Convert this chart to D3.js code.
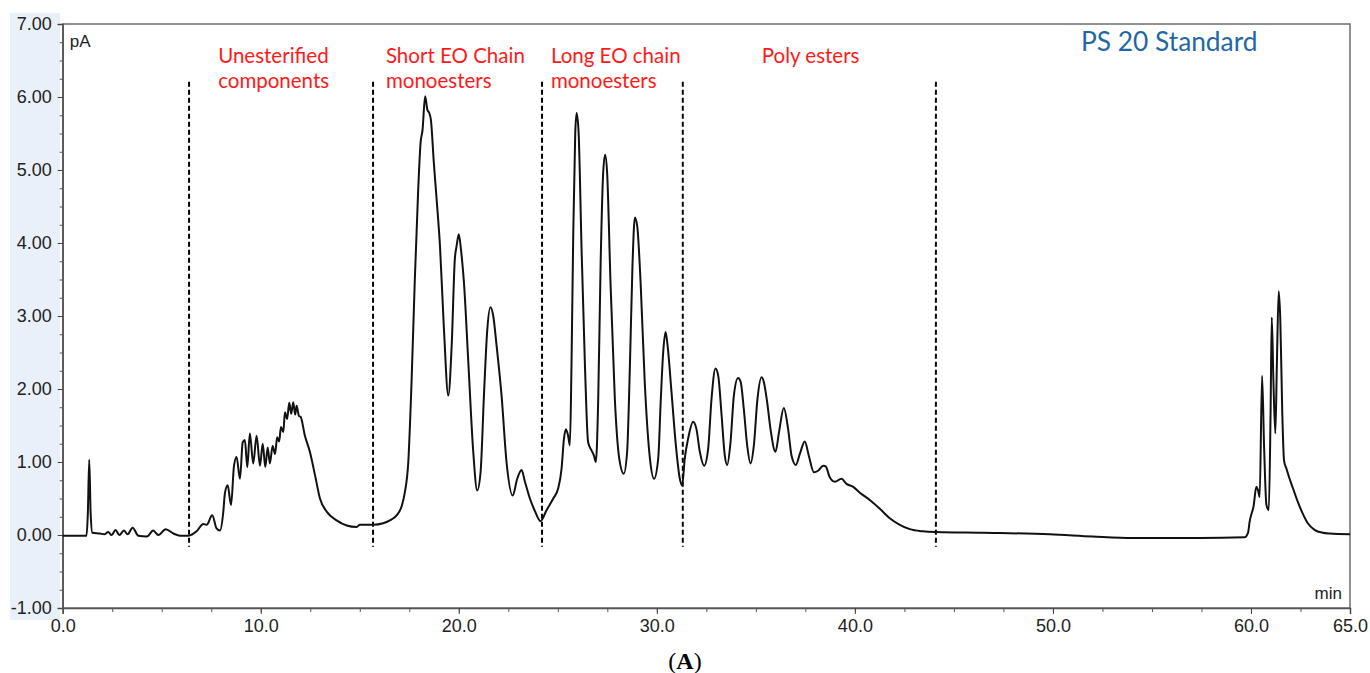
<!DOCTYPE html>
<html lang="en">
  <head>
    <meta charset="UTF-8" />
    <title>PS 20 Standard chromatogram</title>
    <script src="https://d3js.org/d3.v7.min.js"></script>
    <style>
      body {
        margin: 0;
        background: #fff;
      }
      .tick text {
        font: 18px "Liberation Sans", Arial, sans-serif;
        fill: #222;
      }
      .region-label {
        font: 20.5px Lato, sans-serif;
        fill: #ff1a1a;
      }
    </style>
  </head>
  <body>
    <svg id="chart" width="1370" height="673"></svg>
    <script>
      // retention time (min) and detector signal (pA)
      const retentionTime = [
        0.0, 1.0, 1.2, 1.27, 1.34, 1.41, 1.5, 1.88, 2.1, 2.3, 2.47, 2.67, 2.86, 3.09, 3.28, 3.53,
        3.82, 4.25, 4.57, 4.83, 5.2, 5.59, 5.93, 6.35, 6.76, 7.1, 7.27, 7.55, 7.77, 7.94, 8.11,
        8.19, 8.33, 8.5, 8.65, 8.78, 8.95, 9.09, 9.2, 9.32, 9.45, 9.62, 9.79, 9.96, 10.1, 10.23,
        10.35, 10.46, 10.6, 10.72, 10.83, 10.93, 11.02, 11.14, 11.22, 11.33, 11.44, 11.54, 11.64,
        11.74, 11.81, 11.93, 12.01, 12.23, 12.48, 12.74, 12.99, 13.33, 13.83, 14.34, 14.84, 15.01,
        15.68, 16.18, 16.52, 16.86, 17.11, 17.28, 17.45, 17.62, 17.78, 17.95, 18.07, 18.17, 18.3,
        18.41, 18.51, 18.59, 18.74, 18.88, 19.05, 19.25, 19.47, 19.64, 19.8, 19.89, 20.0, 20.11,
        20.26, 20.48, 20.73, 20.93, 21.1, 21.27, 21.43, 21.6, 21.74, 21.91, 22.16, 22.41, 22.72,
        22.95, 23.17, 23.34, 23.59, 23.84, 24.13, 24.43, 24.77, 25.02, 25.19, 25.31, 25.41, 25.52,
        25.61, 25.69, 25.78, 25.88, 25.95, 26.05, 26.2, 26.37, 26.53, 26.7, 26.82, 26.92, 27.04,
        27.16, 27.29, 27.39, 27.49, 27.66, 27.88, 28.1, 28.33, 28.5, 28.64, 28.77, 28.89, 29.01,
        29.18, 29.39, 29.65, 29.86, 30.07, 30.2, 30.32, 30.44, 30.54, 30.74, 30.96, 31.16, 31.28,
        31.41, 31.58, 31.83, 32.0, 32.17, 32.39, 32.59, 32.76, 32.96, 33.1, 33.27, 33.43, 33.55,
        33.72, 33.89, 34.1, 34.23, 34.39, 34.56, 34.73, 34.9, 35.08, 35.29, 35.4, 35.57, 35.74,
        35.99, 36.17, 36.41, 36.63, 36.8, 37.02, 37.22, 37.47, 37.67, 37.93, 38.14, 38.4, 38.53,
        38.73, 38.99, 39.32, 39.58, 39.91, 40.25, 40.75, 41.26, 41.76, 42.27, 42.77, 43.44, 44.12,
        46.47, 49.84, 52.0, 54.04, 57.41, 59.68, 59.85, 59.93, 60.14, 60.27, 60.35, 60.44, 60.56,
        60.66, 60.78, 60.9, 60.99, 61.05, 61.13, 61.23, 61.31, 61.4, 61.48, 61.58, 61.67, 61.79,
        61.95, 62.12, 62.37, 62.62, 62.87, 63.21, 63.63, 63.97, 65.0,
      ];
      const signal = [
        -0.01, -0.01, -0.01, 0.3, 1.03, 0.3, 0.03, 0.02, 0.01, 0.04, 0.0, 0.07, 0.0, 0.06, 0.01, 0.1,
        -0.01, -0.02, 0.06, 0.0, 0.08, 0.02, -0.01, -0.01, 0.05, 0.15, 0.14, 0.27, 0.09, 0.06, 0.32,
        0.57, 0.68, 0.41, 0.95, 1.07, 0.77, 1.27, 1.3, 0.93, 1.39, 0.98, 1.36, 0.95, 1.25, 0.93,
        1.2, 0.98, 1.22, 1.11, 1.34, 1.28, 1.48, 1.41, 1.68, 1.59, 1.81, 1.66, 1.82,
        1.65, 1.77, 1.63, 1.62, 1.36, 1.14, 0.82, 0.5, 0.32, 0.2, 0.13, 0.11, 0.14,
        0.14, 0.16, 0.2, 0.27, 0.39, 0.59, 1.0, 2.14, 3.5, 4.73, 5.37, 5.55, 6.01,
        5.83, 5.78, 5.69, 5.1, 4.6, 3.96, 2.82, 1.91, 2.59, 3.78, 3.96, 4.12, 3.91,
        3.46, 2.37, 1.14, 0.61, 0.86, 1.91, 2.78, 3.12, 3.0, 2.59, 1.91, 1.0, 0.54,
        0.77, 0.89, 0.73, 0.5, 0.33, 0.19, 0.34, 0.5, 0.64, 0.91, 1.32, 1.45, 1.36,
        1.23, 2.32, 4.14, 5.51, 5.78, 5.51, 3.91, 2.32, 1.27, 1.16, 1.09, 1.0, 1.86,
        3.69, 4.96, 5.21, 4.96, 3.46, 1.86, 1.05, 0.84, 1.14, 2.32, 3.69, 4.35, 4.23,
        3.46, 2.09, 1.05, 0.77, 1.05, 1.86, 2.5, 2.78, 2.6, 1.96, 1.23, 0.77, 0.68,
        1.05, 1.32, 1.55, 1.45, 1.14, 0.95, 1.18, 1.86, 2.28, 2.18, 1.64, 1.09, 0.96,
        1.27, 1.91, 2.15, 2.1, 1.73, 1.23, 0.98, 1.23, 1.86, 2.16, 2.1, 1.82, 1.45,
        1.14, 1.41, 1.74, 1.45, 1.09, 0.96, 1.11, 1.28, 1.09, 0.86, 0.88, 0.95, 0.94,
        0.79, 0.73, 0.77, 0.7, 0.66, 0.58, 0.48, 0.36, 0.23, 0.14, 0.08, 0.05, 0.04,
        0.03, 0.01, -0.02, -0.04, -0.04, -0.03, 0.03, 0.18, 0.41, 0.66, 0.62, 0.52, 2.18,
        1.23, 0.41, 0.34, 1.68, 2.98, 2.14, 1.39, 2.37, 3.34, 2.96, 1.68, 1.02, 0.91,
        0.77, 0.64, 0.45, 0.29, 0.16, 0.07, 0.03, 0.02, 0.01,
      ];

      // region boundaries (min) and the labels sitting right of each boundary
      const regionBoundaries = [6.38, 15.67, 24.2, 31.31, 44.09];
      const regionLabels = [
        ["Unesterified", "components"],
        ["Short EO Chain", "monoesters"],
        ["Long EO chain", "monoesters"],
        ["Poly esters"],
      ];
      const labelTimes = [7.85, 16.32, 24.65, 35.3];

      const xTickValues = [0, 10, 20, 30, 40, 50, 60, 65];
      const yTickValues = [-1, 0, 1, 2, 3, 4, 5, 6, 7];

      const width = 1370;
      const height = 673;
      const margin = { top: 24, right: 20, bottom: 65, left: 62.7 };

      const svg = d3.select("#chart");

      const x = d3.scaleLinear().domain([0, 65]).range([margin.left, width - margin.right]);
      const y = d3.scaleLinear().domain([-1, 7]).range([height - margin.bottom, margin.top]);

      // plain hyphen for negatives, like the instrument software
      const fmt2 = (d) => d3.format(".2f")(d).replace("\u2212", "-");

      // pale blue strip behind the y labels
      svg
        .append("rect")
        .attr("x", 10)
        .attr("y", 13)
        .attr("width", 50)
        .attr("height", 607)
        .attr("fill", "#e9f0f9");

      // frame
      svg
        .append("rect")
        .attr("x", x(0))
        .attr("y", y(7))
        .attr("width", x(65) - x(0))
        .attr("height", y(-1) - y(7))
        .attr("fill", "#fff")
        .attr("stroke", "#6d6d6d")
        .attr("stroke-width", 1.5);

      // minor ticks
      svg
        .append("g")
        .attr("transform", `translate(0,${y(-1)})`)
        .call(d3.axisBottom(x).tickValues(d3.range(0, 65.1, 2.5)).tickSize(4).tickFormat(""))
        .call((g) => g.select(".domain").remove())
        .selectAll("line")
        .attr("stroke", "#555");
      svg
        .append("g")
        .attr("transform", `translate(${x(0)},0)`)
        .call(d3.axisLeft(y).tickValues(d3.range(-1, 7.01, 0.25)).tickSize(3).tickFormat(""))
        .call((g) => g.select(".domain").remove())
        .selectAll("line")
        .attr("stroke", "#555");

      // major axes
      const xAxis = svg
        .append("g")
        .attr("transform", `translate(0,${y(-1)})`)
        .call(d3.axisBottom(x).tickValues(xTickValues).tickSize(6).tickPadding(5).tickFormat(d3.format(".1f")));
      xAxis.select(".domain").attr("stroke", "#555").attr("stroke-width", 1.5);
      xAxis.selectAll("line").attr("stroke", "#444");

      const yAxis = svg
        .append("g")
        .attr("transform", `translate(${x(0)},0)`)
        .call(d3.axisLeft(y).tickValues(yTickValues).tickSize(5).tickPadding(6).tickFormat(fmt2));
      yAxis.select(".domain").attr("stroke", "#555").attr("stroke-width", 1.5);
      yAxis.selectAll("line").attr("stroke", "#444");

      // units
      svg
        .append("text")
        .attr("x", x(0) + 7)
        .attr("y", 47)
        .style("font", '17px "Liberation Sans", Arial, sans-serif')
        .attr("fill", "#222")
        .text("pA");
      svg
        .append("text")
        .attr("x", x(65) - 8)
        .attr("y", 599)
        .attr("text-anchor", "end")
        .style("font", '17px "Liberation Sans", Arial, sans-serif')
        .attr("fill", "#222")
        .text("min");

      // dashed region boundaries
      svg
        .append("g")
        .selectAll("line")
        .data(regionBoundaries)
        .join("line")
        .attr("x1", (d) => x(d))
        .attr("x2", (d) => x(d))
        .attr("y1", y(6.21))
        .attr("y2", y(-0.16))
        .attr("stroke", "#000")
        .attr("stroke-width", 2)
        .attr("stroke-dasharray", "5,3");

      // chromatogram trace
      const trace = d3.zip(retentionTime, signal);
      const line = d3
        .line()
        .x((d) => x(d[0]))
        .y((d) => y(d[1]))
        .curve(d3.curveMonotoneX);
      svg
        .append("path")
        .datum(trace)
        .attr("fill", "none")
        .attr("stroke", "#111")
        .attr("stroke-width", 2)
        .attr("stroke-linejoin", "round")
        .attr("d", line);

      // region labels
      regionLabels.forEach((lines, i) => {
        const t = svg
          .append("text")
          .attr("class", "region-label")
          .attr("x", x(labelTimes[i]))
          .attr("y", 62.5);
        lines.forEach((s, j) => {
          t.append("tspan")
            .attr("x", x(labelTimes[i]))
            .attr("dy", j === 0 ? 0 : 25)
            .text(s);
        });
      });

      // title
      svg
        .append("text")
        .attr("x", 1081)
        .attr("y", 50.5)
        .style("font", "26.3px Lato, sans-serif")
        .attr("fill", "#1f67a6")
        .text("PS 20 Standard");

      // panel letter
      svg
        .append("text")
        .attr("x", 685)
        .attr("y", 669)
        .attr("text-anchor", "middle")
        .style("font", '24px "Liberation Serif", "Times New Roman", serif')
        .attr("fill", "#000")
        .html('(<tspan font-weight="bold">A</tspan>)');
    </script>
  </body>
</html>
